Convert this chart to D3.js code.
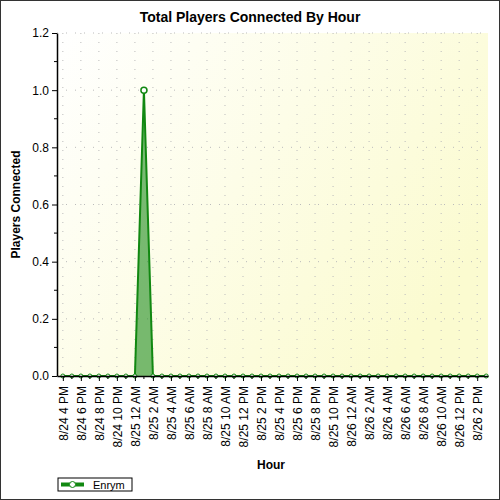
<!DOCTYPE html>
<html><head><meta charset="utf-8">
<script src="https://cdn.jsdelivr.net/npm/d3@7"></script>
<style>body{margin:0;background:#fff}text{font-family:"Liberation Sans",Arial,sans-serif}</style>
</head><body><svg id="c" width="500" height="500"></svg>
<script>
const startHour = "2023-08-24T16:00:00Z";
const hoursCount = 48;
const peakHourIndex = 9; // 8/25 1 AM
const seriesName = "Enrym";
const values = d3.range(hoursCount).map(i => i === peakHourIndex ? 1 : 0);
const yTicks = [0, 0.2, 0.4, 0.6, 0.8, 1.0, 1.2];

const t0 = new Date(startHour);
const data = values.map((v, i) => ({t: new Date(t0.getTime() + i * 3600e3), v}));

const svg = d3.select("#c");
const L = 57, R = 488, T = 33, B = 376;
const x = d3.scaleUtc().domain([new Date(t0.getTime() - 0.65 * 3600e3), new Date(t0.getTime() + 47.2 * 3600e3)]).range([L, R]);
const y = d3.scaleLinear().domain([0, 1.2]).range([B, T]);

svg.append("rect").attr("x", 0.5).attr("y", 0.5).attr("width", 499).attr("height", 499).attr("fill", "#fff").attr("stroke", "#333");
const g = svg.append("defs").append("linearGradient").attr("id", "bg").attr("x1", 0).attr("y1", 0).attr("x2", 1).attr("y2", 0.6);
g.append("stop").attr("offset", 0).attr("stop-color", "#ffffff");
g.append("stop").attr("offset", 1).attr("stop-color", "#fbfbd0");
svg.append("rect").attr("x", L).attr("y", T).attr("width", R - L).attr("height", B - T).attr("fill", "url(#bg)");

const xTicks = d3.range(0, 47, 2).map(h => new Date(t0.getTime() + h * 3600e3));
svg.append("g").selectAll("line").data(xTicks).join("line")
  .attr("x1", d => x(d)).attr("x2", d => x(d)).attr("y1", T).attr("y2", B)
  .attr("stroke", "#bbb").attr("stroke-dasharray", "1,8");
svg.append("g").selectAll("line").data(yTicks.slice(1)).join("line")
  .attr("x1", L).attr("x2", R).attr("y1", d => y(d)).attr("y2", d => y(d))
  .attr("stroke", "#bbb").attr("stroke-dasharray", "1,8");

svg.append("path").datum(data).attr("fill", "rgba(30,140,30,0.6)")
  .attr("d", d3.area().x(d => x(d.t)).y0(y(0)).y1(d => y(d.v)));
svg.append("path").datum(data).attr("fill", "none").attr("stroke", "#118811").attr("stroke-width", 2)
  .attr("d", d3.line().x(d => x(d.t)).y(d => y(d.v)));
svg.append("g").selectAll("circle").data(data).join("circle")
  .attr("cx", d => x(d.t)).attr("cy", d => y(d.v)).attr("r", d => d.v > 0 ? 3 : 2)
  .attr("fill", "#fff").attr("stroke", "#118811").attr("stroke-width", d => d.v > 0 ? 1.5 : 1);

const fmt = d => {
  const m = d.getUTCMonth() + 1, day = d.getUTCDate(), h = d.getUTCHours();
  const hh = h % 12 === 0 ? 12 : h % 12;
  return `${m}/${day} ${hh} ${h < 12 ? "AM" : "PM"}`;
};
const xa = svg.append("g").attr("transform", `translate(0,${B})`)
  .call(d3.axisBottom(x).tickValues(xTicks).tickFormat(fmt).tickSize(5).tickSizeOuter(0));
xa.selectAll(".tick text").attr("transform", "rotate(-90)").attr("text-anchor", "end")
  .attr("x", -10).attr("y", 0).attr("dy", "0.35em").attr("font-size", 12).attr("fill", "#000");
xa.select(".domain").attr("stroke", "#000").attr("stroke-width", 1.5);
xa.selectAll(".tick line").attr("stroke", "#000");
svg.append("g").selectAll("line").data(d3.range(1, 47, 2)).join("line")
  .attr("x1", h => x(new Date(t0.getTime() + h * 3600e3))).attr("x2", h => x(new Date(t0.getTime() + h * 3600e3)))
  .attr("y1", B).attr("y2", B + 3).attr("stroke", "#000");

const ya = svg.append("g").attr("transform", `translate(${L},0)`)
  .call(d3.axisLeft(y).tickValues(yTicks).tickFormat(d3.format(".1f")).tickSize(5).tickSizeOuter(0));
ya.selectAll(".tick text").attr("font-size", 12).attr("fill", "#000");
ya.select(".domain").attr("stroke", "#000").attr("stroke-width", 1.5);
svg.append("g").selectAll("line").data(d3.range(0.1, 1.2, 0.2)).join("line")
  .attr("x1", L - 3).attr("x2", L).attr("y1", d => y(d)).attr("y2", d => y(d)).attr("stroke", "#000");

svg.append("text").attr("x", 250).attr("y", 22).attr("text-anchor", "middle")
  .attr("font-size", 14).attr("font-weight", "bold").text("Total Players Connected By Hour");
svg.append("text").attr("x", 271).attr("y", 469).attr("text-anchor", "middle")
  .attr("font-size", 12).attr("font-weight", "bold").text("Hour");
svg.append("text").attr("transform", `translate(20,${(T + B) / 2}) rotate(-90)`).attr("text-anchor", "middle")
  .attr("font-size", 12).attr("font-weight", "bold").text("Players Connected");

const lg = svg.append("g").attr("transform", "translate(58,478)");
lg.append("rect").attr("width", 74).attr("height", 13).attr("fill", "#fff").attr("stroke", "#000");
lg.append("line").attr("x1", 3).attr("x2", 26).attr("y1", 6.5).attr("y2", 6.5).attr("stroke", "#118811").attr("stroke-width", 4);
lg.append("circle").attr("cx", 14.5).attr("cy", 6.5).attr("r", 3).attr("fill", "#fff").attr("stroke", "#118811");
lg.append("text").attr("x", 35).attr("y", 10.5).attr("font-size", 11).text(seriesName);
</script></body></html>
